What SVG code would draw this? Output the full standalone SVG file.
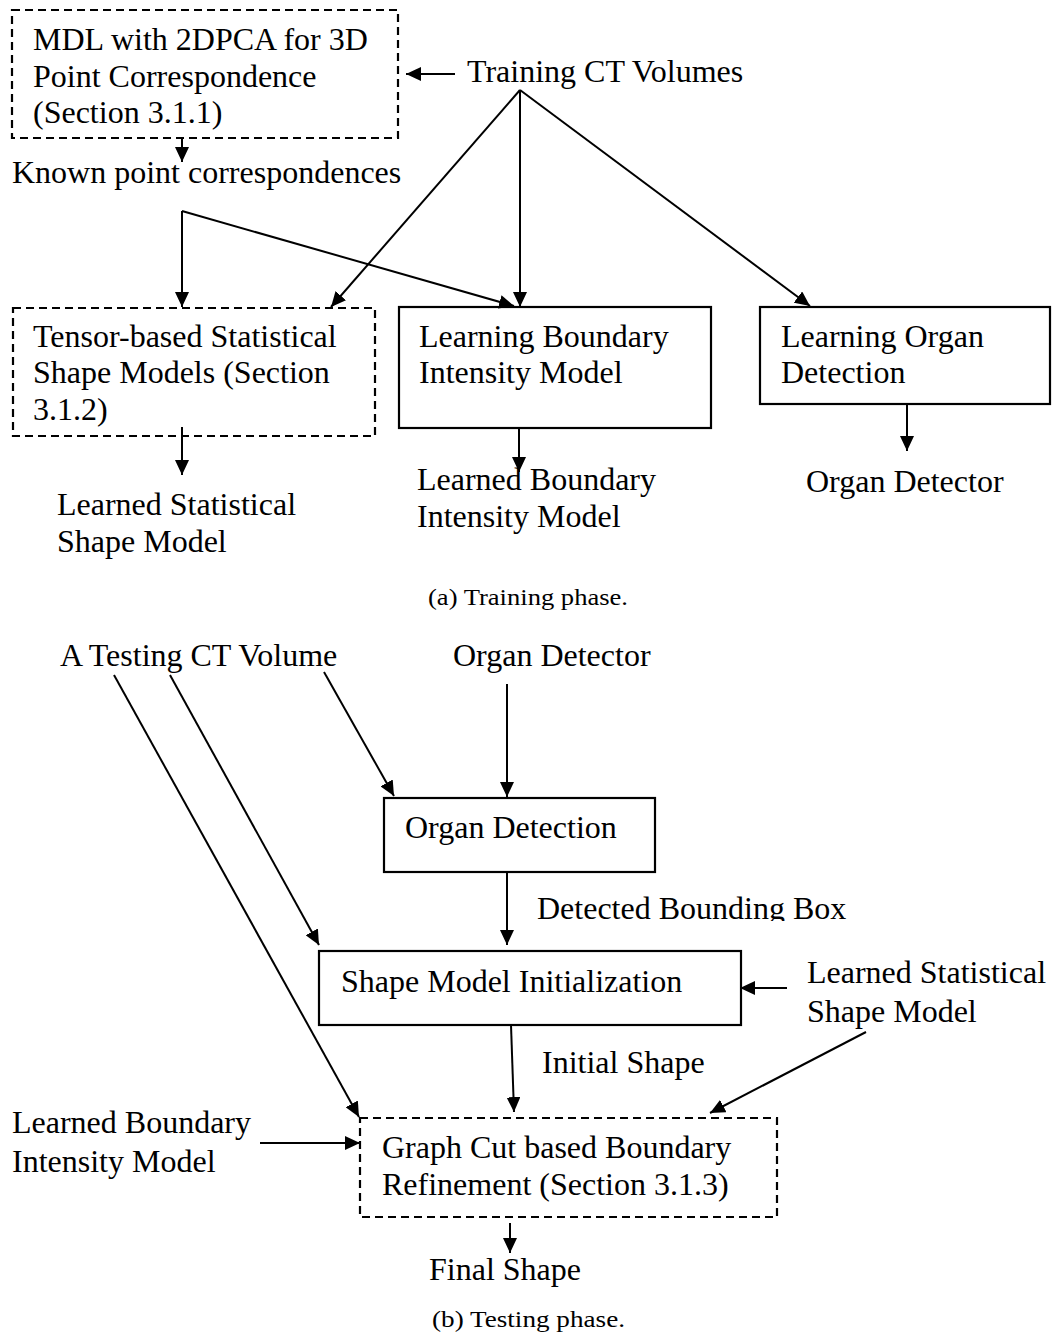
<svg xmlns="http://www.w3.org/2000/svg" width="1054" height="1337" viewBox="0 0 1054 1337">
<defs>
<marker id="ah" markerUnits="userSpaceOnUse" markerWidth="16" markerHeight="14" refX="15" refY="7" orient="auto">
<path d="M0,0 L15,7 L0,14 Z" fill="#000"/>
</marker>
<clipPath id="clipdbb"><rect x="500" y="880" width="400" height="41"/></clipPath>
</defs>
<style>
text{font-family:"Liberation Serif","Times New Roman",serif;font-size:32px;fill:#000}
.cap{font-size:23px}
.box{fill:none;stroke:#000;stroke-width:2.2}
.dash{stroke-dasharray:8,5}
.con line,.con path{fill:none;stroke:#000;stroke-width:2;marker-end:url(#ah)}
</style>
<rect width="1054" height="1337" fill="#fff"/>

<g id="mdl">
<rect class="box dash" x="12" y="10" width="386" height="128"/>
<text x="33" y="50">MDL with 2DPCA for 3D</text>
<text x="33" y="87">Point Correspondence</text>
<text x="33" y="123">(Section 3.1.1)</text>
</g>
<g id="training"><text x="467" y="82">Training CT Volumes</text></g>
<g id="known"><text x="12" y="183">Known point correspondences</text></g>
<g id="tensor">
<rect class="box dash" x="13" y="308" width="362" height="128"/>
<text x="33" y="347">Tensor-based Statistical</text>
<text x="33" y="383">Shape Models (Section</text>
<text x="33" y="420">3.1.2)</text>
</g>
<g id="lbim">
<rect class="box" x="399" y="307" width="312" height="121"/>
<text x="419" y="347">Learning Boundary</text>
<text x="419" y="383">Intensity Model</text>
</g>
<g id="lod">
<rect class="box" x="760" y="307" width="290" height="97"/>
<text x="781" y="347">Learning Organ</text>
<text x="781" y="383">Detection</text>
</g>
<g id="lssm1">
<text x="57" y="515">Learned Statistical</text>
<text x="57" y="552">Shape Model</text>
</g>
<g id="lbim1">
<text x="417" y="490">Learned Boundary</text>
<text x="417" y="527">Intensity Model</text>
</g>
<g id="od1"><text x="806" y="492">Organ Detector</text></g>
<g id="capa"><text class="cap" x="428" y="605" textLength="200" lengthAdjust="spacingAndGlyphs">(a) Training phase.</text></g>

<g id="testct"><text x="60" y="666">A Testing CT Volume</text></g>
<g id="od2"><text x="453" y="666">Organ Detector</text></g>
<g id="odet">
<rect class="box" x="384" y="798" width="271" height="74"/>
<text x="405" y="838">Organ Detection</text>
</g>
<g id="dbb"><text x="537" y="919" clip-path="url(#clipdbb)">Detected Bounding Box</text></g>
<g id="smi">
<rect class="box" x="319" y="951" width="422" height="74"/>
<text x="341" y="992">Shape Model Initialization</text>
</g>
<g id="lssm2">
<text x="807" y="983">Learned Statistical</text>
<text x="807" y="1022">Shape Model</text>
</g>
<g id="ishape"><text x="542" y="1073">Initial Shape</text></g>
<g id="lbim2">
<text x="12" y="1133">Learned Boundary</text>
<text x="12" y="1172">Intensity Model</text>
</g>
<g id="gcbr">
<rect class="box dash" x="360" y="1118" width="417" height="99"/>
<text x="382" y="1158">Graph Cut based Boundary</text>
<text x="382" y="1195">Refinement (Section 3.1.3)</text>
</g>
<g id="final"><text x="429" y="1280">Final Shape</text></g>
<g id="capb"><text class="cap" x="432" y="1327" textLength="193" lengthAdjust="spacingAndGlyphs">(b) Testing phase.</text></g>

<g id="connectors" class="con">
<line x1="455" y1="74" x2="406" y2="74"/>
<line x1="182" y1="138" x2="182" y2="162"/>
<line x1="520" y1="90" x2="331" y2="307"/>
<line x1="520" y1="90" x2="520" y2="307"/>
<line x1="520" y1="90" x2="810" y2="306"/>
<path d="M182,211 L182,307"/>
<path d="M182,211 L514,306"/>
<line x1="182" y1="427" x2="182" y2="475"/>
<line x1="519" y1="428" x2="519" y2="472"/>
<line x1="907" y1="404" x2="907" y2="451"/>
<line x1="324" y1="672" x2="394" y2="796"/>
<line x1="507" y1="684" x2="507" y2="797"/>
<line x1="507" y1="872" x2="507" y2="945"/>
<line x1="170" y1="675" x2="319" y2="945"/>
<line x1="114" y1="675" x2="359" y2="1117"/>
<line x1="787" y1="988" x2="740" y2="988"/>
<line x1="511" y1="1025" x2="514" y2="1112"/>
<line x1="866" y1="1032" x2="710" y2="1113"/>
<line x1="260" y1="1143" x2="360" y2="1143"/>
<line x1="510" y1="1223" x2="510" y2="1253"/>
</g>
</svg>
